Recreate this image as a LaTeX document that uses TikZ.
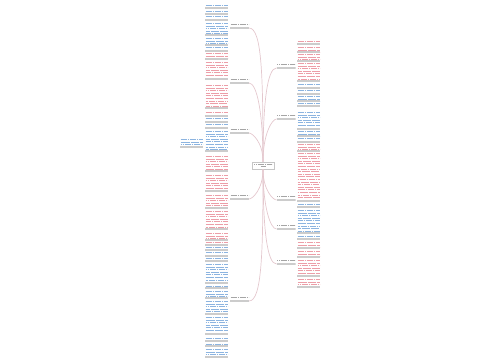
\documentclass[tikz,border=0pt]{standalone}
\usetikzlibrary{calc}
\definecolor{leafblue}{RGB}{140,180,224}
\definecolor{leafred}{RGB}{236,158,168}
\definecolor{branchline}{RGB}{228,200,206}
\definecolor{labelgray}{RGB}{165,165,165}

\begin{document}
\begin{tikzpicture}[x=1pt,y=-1pt,
	leaf_node/.style={rectangle,inner sep=0pt,outer sep=0pt,anchor=north,minimum width=23pt,
		path picture={
			\foreach \k in {0,...,24}
				\draw[#1,line width=1pt,dash pattern=on 1.5pt off 0.3pt,dash phase=\k*0.7pt]
					($(path picture bounding box.north west)+(0.5,1.4+\k*2.6)$) -- ++(22,0);
			\draw[gray!40,line width=1.3pt] (path picture bounding box.south west) -- (path picture bounding box.south east);}},
	branch_node/.style={rectangle,inner sep=0pt,outer sep=0pt,minimum width=19pt,minimum height=5pt,
		path picture={
			\draw[labelgray,line width=1pt,dash pattern=on 1.4pt off 0.4pt]
				($(path picture bounding box.west)+(0.5,-0.6)$) -- ++(18,0);
			\draw[gray!40,line width=1.1pt] (path picture bounding box.south west) -- (path picture bounding box.south east);}},
	center_node/.style={rectangle,draw=gray!45,fill=white,line width=0.5pt,inner sep=0pt,minimum width=22pt,minimum height=7pt,
		path picture={
			\draw[labelgray,line width=0.9pt,dash pattern=on 1.4pt off 0.4pt]
				($(path picture bounding box.north west)+(2,2.2)$) -- ++(18,0);
			\draw[labelgray,line width=0.9pt,dash pattern=on 1.4pt off 0.4pt]
				($(path picture bounding box.north)+(-2.5,4.8)$) -- ++(5,0);}},
	branch_line/.style={draw=branchline,line width=0.7pt}]

	\useasboundingbox (0,0) rectangle (500,360);

	% centre and branches
	\node[center_node] (c) at (263,165.5) {};

	\node[branch_node] (L1) at (239.5,25.5) {};
	\node[branch_node] (L2) at (239.5,80.5) {};
	\node[branch_node] (L3) at (239.5,130.5) {};
	\node[branch_node] (L4) at (239.5,196.5) {};
	\node[branch_node] (L5) at (239.5,298.5) {};

	\node[branch_node] (R1) at (286,65.5) {};
	\node[branch_node] (R2) at (286,116.5) {};
	\node[branch_node] (R3) at (286,197.5) {};
	\node[branch_node] (R4) at (286,226.5) {};
	\node[branch_node] (R5) at (286,261.5) {};

	\draw (c.north) edge[branch_line,out=90,in=0,out looseness=1.6,in looseness=0.25] (L1.south east);
	\draw (c.north) edge[branch_line,out=90,in=0,out looseness=1.6,in looseness=0.25] (L2.south east);
	\draw (c.north) edge[branch_line,out=90,in=0,out looseness=1.6,in looseness=0.25] (L3.south east);
	\draw (c.south) edge[branch_line,out=-90,in=0,out looseness=1.6,in looseness=0.25] (L4.south east);
	\draw (c.south) edge[branch_line,out=-90,in=0,out looseness=1.6,in looseness=0.25] (L5.south east);
	\draw (c.north) edge[branch_line,out=90,in=180,out looseness=1.6,in looseness=0.25] (R1.south west);
	\draw (c.north) edge[branch_line,out=90,in=180,out looseness=1.6,in looseness=0.25] (R2.south west);
	\draw (c.south) edge[branch_line,out=-90,in=180,out looseness=1.6,in looseness=0.25] (R3.south west);
	\draw (c.south) edge[branch_line,out=-90,in=180,out looseness=1.6,in looseness=0.25] (R4.south west);
	\draw (c.south) edge[branch_line,out=-90,in=180,out looseness=1.6,in looseness=0.25] (R5.south west);

	% left column
	\node[leaf_node=leafblue,minimum height=4pt] (l1) at (216.5,4) {};
	\node[leaf_node=leafblue,minimum height=4pt] (l2) at (216.5,10) {};
	\node[leaf_node=leafblue,minimum height=5pt] (l3) at (216.5,15) {};
	\node[leaf_node=leafblue,minimum height=13pt] (l4) at (216.5,22) {};
	\node[leaf_node=leafblue,minimum height=8pt] (l5) at (216.5,37) {};
	\node[leaf_node=leafblue,minimum height=5pt] (l6) at (216.5,46) {};
	\node[leaf_node=leafred,minimum height=7pt] (l7) at (216.5,52) {};
	\node[leaf_node=leafred,minimum height=18pt] (l8) at (216.5,61) {};
	\node[leaf_node=leafred,minimum height=24pt] (l9) at (216.5,84) {};
	\node[leaf_node=leafred,minimum height=5pt] (l10) at (216.5,111) {};
	\node[leaf_node=leafblue,minimum height=5pt] (l11) at (216.5,117) {};
	\node[leaf_node=leafblue,minimum height=5pt] (l12) at (216.5,123) {};
	\node[leaf_node=leafblue,minimum height=21pt] (l13) at (216.5,130) {};
	\node[leaf_node=leafred,minimum height=16pt] (l14) at (216.5,155) {};
	\node[leaf_node=leafred,minimum height=17pt] (l15) at (216.5,174) {};
	\node[leaf_node=leafred,minimum height=14pt] (l16) at (216.5,194) {};
	\node[leaf_node=leafred,minimum height=19pt] (l17) at (216.5,210) {};
	\node[leaf_node=leafred,minimum height=8pt] (l18) at (216.5,232) {};
	\node[leaf_node=leafred,minimum height=4pt] (l19) at (216.5,241) {};
	\node[leaf_node=leafblue,minimum height=4pt] (l20) at (216.5,246) {};
	\node[leaf_node=leafblue,minimum height=5pt] (l21) at (216.5,251) {};
	\node[leaf_node=leafblue,minimum height=4pt] (l22) at (216.5,257) {};
	\node[leaf_node=leafblue,minimum height=20pt] (l23) at (216.5,263) {};
	\node[leaf_node=leafblue,minimum height=3pt] (l24) at (216.5,285) {};
	\node[leaf_node=leafblue,minimum height=8pt] (l25) at (216.5,290) {};
	\node[leaf_node=leafblue,minimum height=14pt] (l26) at (216.5,300) {};
	\node[leaf_node=leafblue,minimum height=18pt] (l27) at (216.5,316) {};
	\node[leaf_node=leafblue,minimum height=4pt] (l28) at (216.5,337) {};
	\node[leaf_node=leafblue,minimum height=3pt] (l29) at (216.5,343) {};
	\node[leaf_node=leafblue,minimum height=9pt] (l30) at (216.5,348) {};

	\node[leaf_node=leafblue,minimum height=9pt] (fl) at (191.5,138) {};

	% right column
	\node[leaf_node=leafred,minimum height=4pt] (r1) at (308.5,40) {};
	\node[leaf_node=leafred,minimum height=6pt] (r2) at (308.5,46) {};
	\node[leaf_node=leafred,minimum height=8pt] (r3) at (308.5,53) {};
	\node[leaf_node=leafred,minimum height=19pt] (r4) at (308.5,62) {};
	\node[leaf_node=leafblue,minimum height=5pt] (r5) at (308.5,83) {};
	\node[leaf_node=leafblue,minimum height=5pt] (r6) at (308.5,89) {};
	\node[leaf_node=leafblue,minimum height=6pt] (r7) at (308.5,95) {};
	\node[leaf_node=leafblue,minimum height=4pt] (r8) at (308.5,102) {};
	\node[leaf_node=leafblue,minimum height=18pt] (r9) at (308.5,111) {};
	\node[leaf_node=leafblue,minimum height=6pt] (r10) at (308.5,130) {};
	\node[leaf_node=leafblue,minimum height=5pt] (r11) at (308.5,137) {};
	\node[leaf_node=leafred,minimum height=8pt] (r12) at (308.5,143) {};
	\node[leaf_node=leafred,minimum height=49pt] (r13) at (308.5,152) {};
	\node[leaf_node=leafblue,minimum height=4pt] (r14) at (308.5,203) {};
	\node[leaf_node=leafblue,minimum height=24pt] (r15) at (308.5,209) {};
	\node[leaf_node=leafblue,minimum height=4pt] (r16) at (308.5,235) {};
	\node[leaf_node=leafred,minimum height=7pt] (r17) at (308.5,241) {};
	\node[leaf_node=leafred,minimum height=7pt] (r18) at (308.5,250) {};
	\node[leaf_node=leafred,minimum height=17pt] (r19) at (308.5,259) {};
	\node[leaf_node=leafred,minimum height=9pt] (r20) at (308.5,278) {};

\end{tikzpicture}
\end{document}
